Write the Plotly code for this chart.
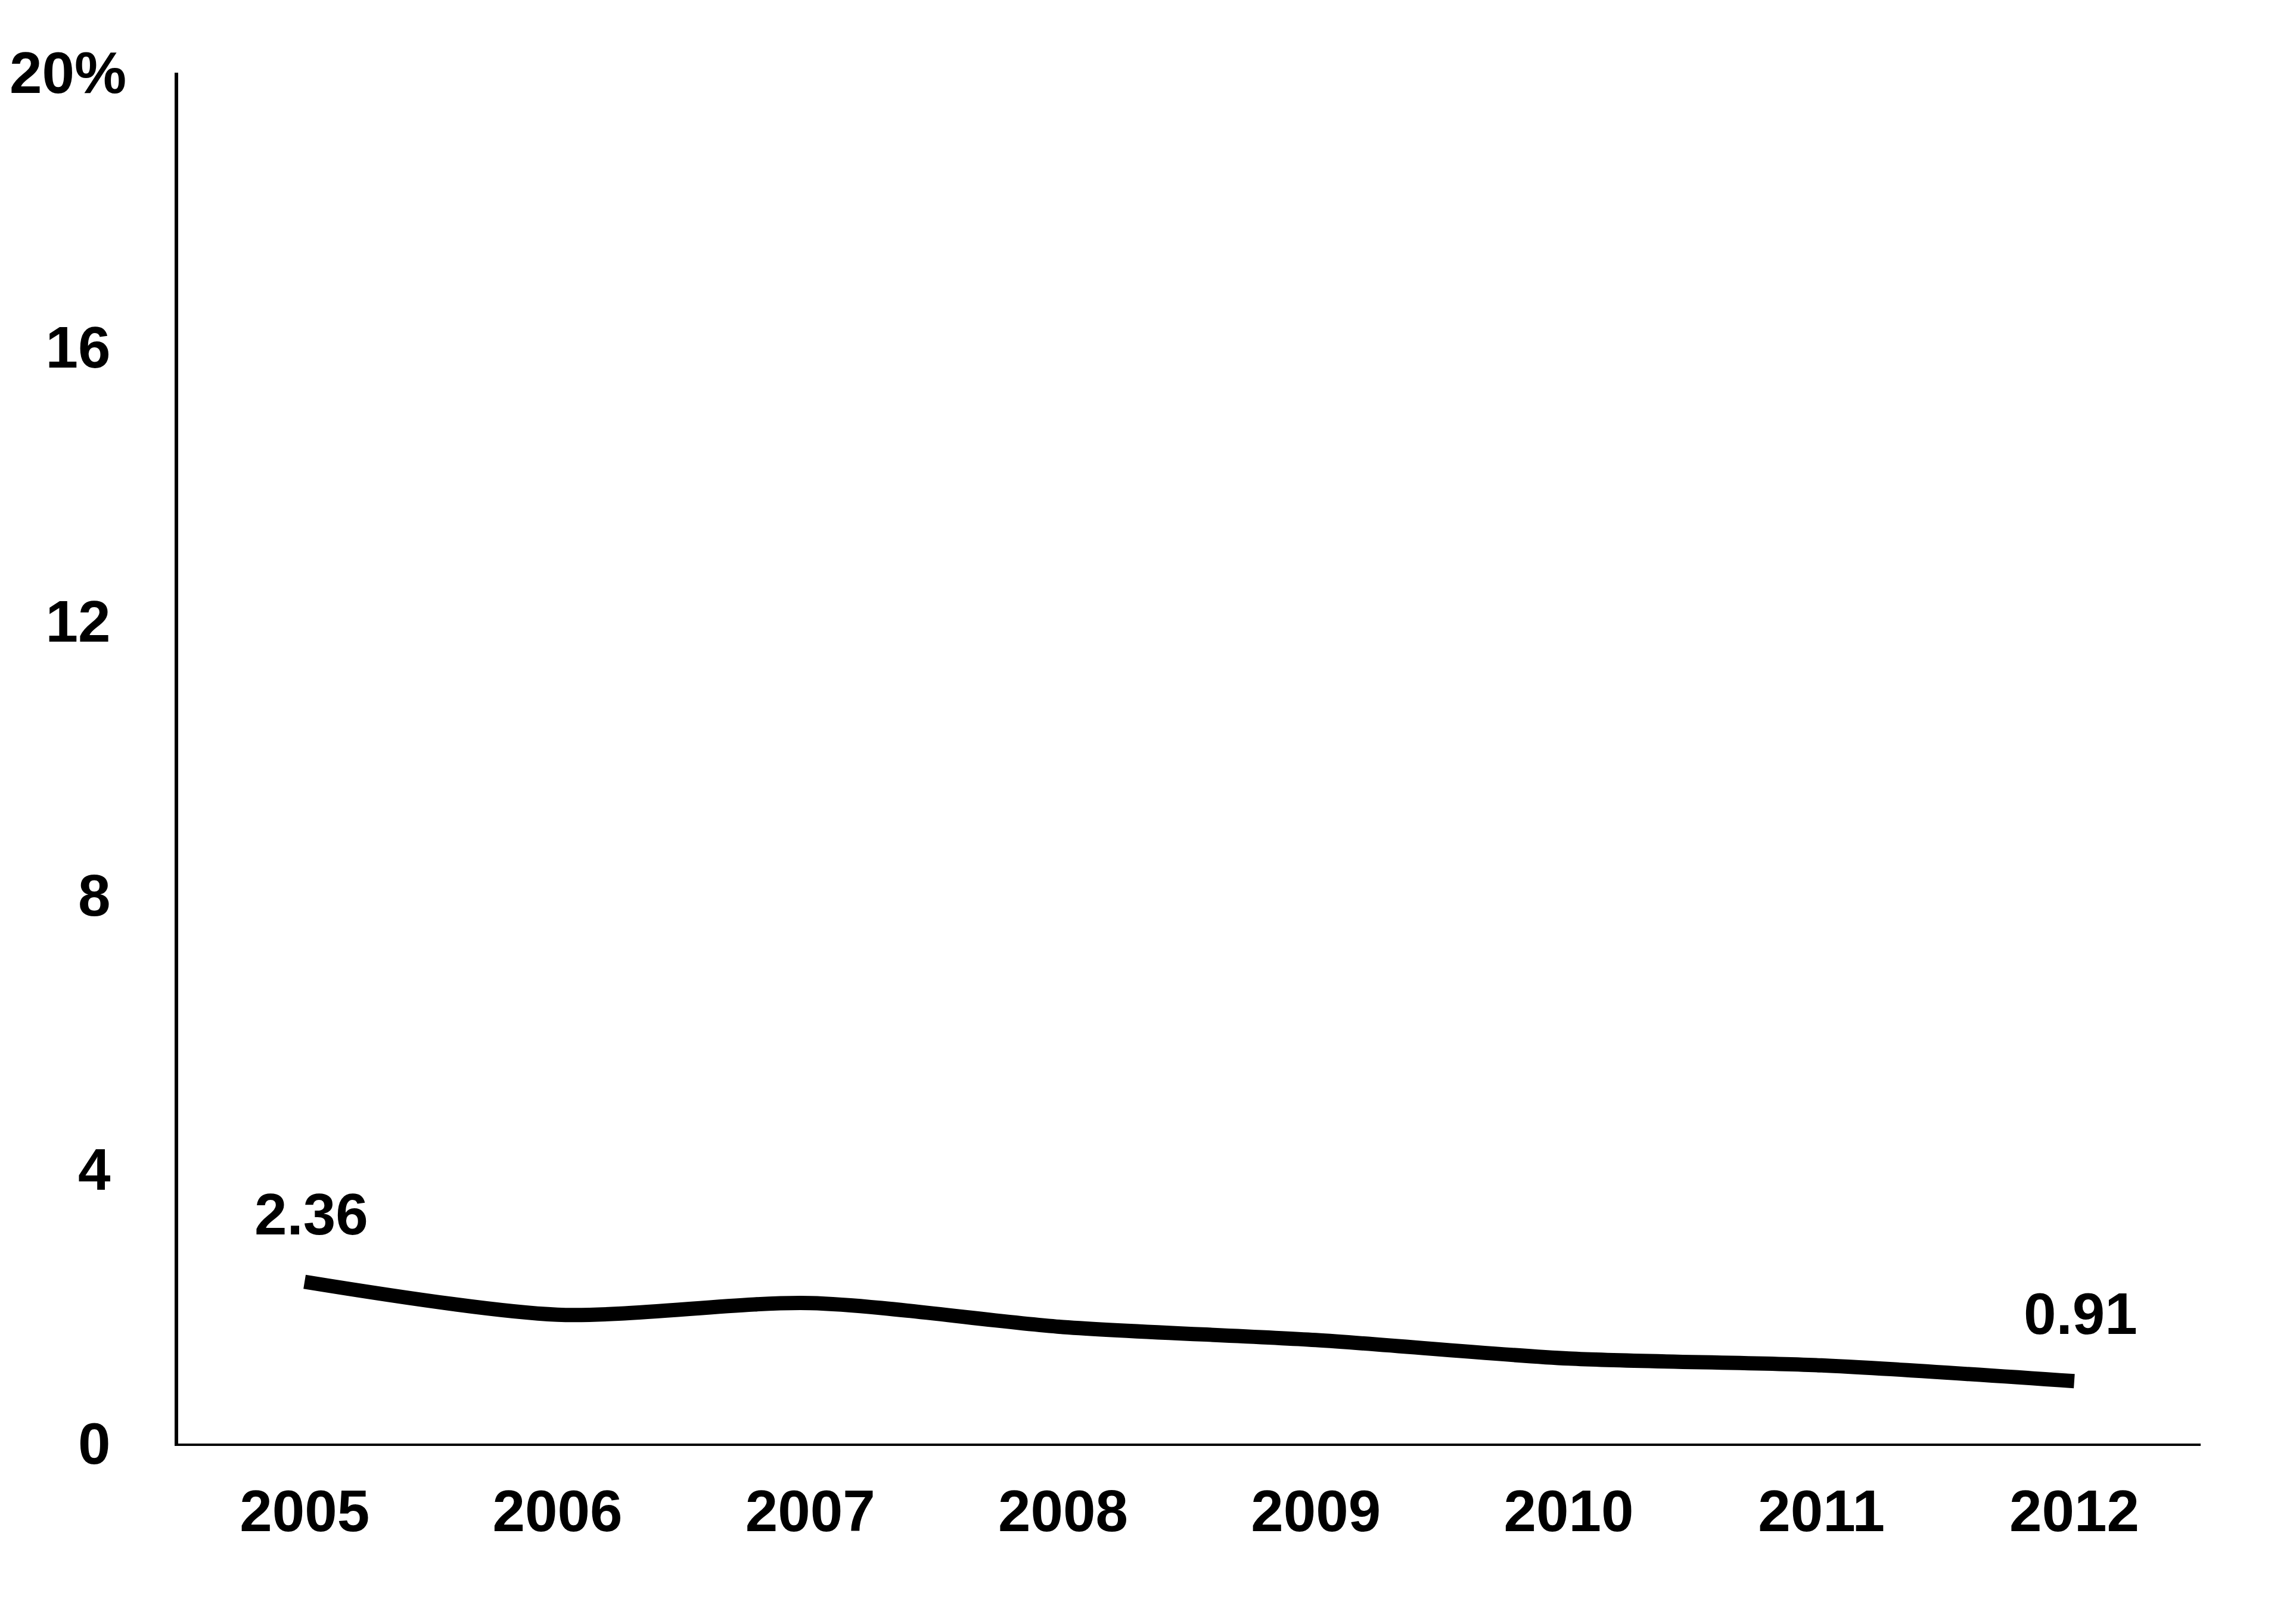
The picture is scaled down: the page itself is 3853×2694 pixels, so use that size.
import plotly.graph_objects as go

years = ["2005", "2006", "2007", "2008", "2009", "2010", "2011", "2012"]
values = [2.36, 1.88, 2.05, 1.70, 1.51, 1.24, 1.14, 0.91]
y_ticks = [0, 4, 8, 12, 16]
y_tick_labels = ["0", "4", "8", "12", "16"]
top_label = "20%"

FONT = "Liberation Sans"
FS = 98
PAGE_OFFSET = 8  # default body margin of the html page

fig = go.Figure()
fig.add_trace(go.Scatter(
    x=list(range(len(years))), y=values, mode="lines",
    line=dict(color="black", width=24, shape="spline", smoothing=0.8),
    hoverinfo="skip", showlegend=False,
))

for i in (0, len(values) - 1):
    fig.add_annotation(
        x=i, y=values[i], xref="x", yref="y",
        text=f"{values[i]:.2f}", showarrow=False,
        yshift=113, xshift=11, yanchor="middle",
        font=dict(family=FONT, size=FS, color="black", weight="bold"),
    )

fig.add_annotation(
    x=0, y=20, xref="paper", yref="y", text=top_label, showarrow=False,
    xanchor="right", yanchor="middle", xshift=-85,
    font=dict(family=FONT, size=FS, color="black", weight="bold"),
)

fig.update_layout(
    width=3853, height=2694,
    margin=dict(l=299 - PAGE_OFFSET, r=160 + PAGE_OFFSET,
                t=122 - PAGE_OFFSET, b=271 + PAGE_OFFSET),
    paper_bgcolor="white", plot_bgcolor="white",
    font=dict(family=FONT, size=FS, color="black", weight="bold"),
    xaxis=dict(
        range=[-0.5, len(years) - 0.5],
        tickmode="array", tickvals=list(range(len(years))), ticktext=years,
        showgrid=False, zeroline=False, showline=True, linecolor="black", linewidth=4,
        ticks="", ticklabelstandoff=25,
        tickfont=dict(family=FONT, size=FS, color="black", weight="bold"),
    ),
    yaxis=dict(
        range=[0, 20],
        tickmode="array", tickvals=y_ticks, ticktext=y_tick_labels,
        showgrid=False, zeroline=False, showline=True, linecolor="black", linewidth=6,
        ticks="", ticklabelstandoff=88,
        tickfont=dict(family=FONT, size=FS, color="black", weight="bold"),
    ),
)

fig.write_html("out.html")
